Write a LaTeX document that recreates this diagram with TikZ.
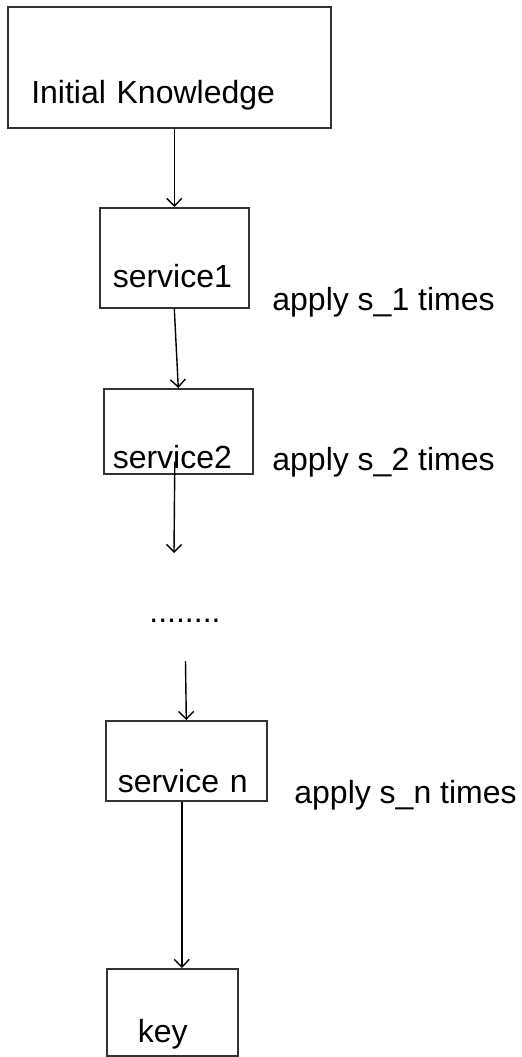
\documentclass[tikz,border=0pt]{standalone}
\usepackage{fontspec}
\setmainfont{Liberation Sans}
\usetikzlibrary{arrows.meta}

\tikzset{
  box/.style={draw=black!80, line width=0.8pt, anchor=north west, inner ysep=0pt, align=left, font=\fontsize{16}{19}\selectfont},
  note/.style={anchor=base west, inner sep=0pt, font=\fontsize{16}{19}\selectfont},
  arr/.style={-{Straight Barb[length=3.8pt,width=7.5pt]}, line width=0.7pt}
}

\begin{document}
\begin{tikzpicture}[x=0.5pt, y=-0.5pt]
    \useasboundingbox (0,0) rectangle (521,1057);
    \node[box, inner xsep=11.75pt, text width=138pt, text height=48.5pt, text depth=12pt] (ik) at (7,6) {Initial Knowledge};
    \node[box, inner xsep=6.5pt, text width=61.5pt, text height=40pt, text depth=10pt] (s1) at (99,207) {service1};
    \node[box, inner xsep=4.5pt, text width=65.5pt, text height=40pt, text depth=2.5pt] (s2) at (103,388) {service2};
    \node[box, inner xsep=6pt, text width=68.5pt, text height=36pt, text depth=4pt] (sn) at (105,720) {service n};
    \node[box, inner xsep=15.5pt, text width=34.5pt, text height=37pt, text depth=6.5pt] (key) at (106,968) {key};
    \node[note] (t1) at (272,310) {apply s\_1 times};
    \node[note] (t2) at (272,470) {apply s\_2 times};
    \node[note] (tn) at (294,803) {apply s\_n times};
    \node[note] (dots) at (149,622) {........};
    \coordinate (d-in) at (174,553);
    \coordinate (d-out) at (185.5,661);
    \draw[arr] (ik.south -| s1.north) -- (s1.north);
    \draw[arr] (s1.south) -- (s2.north);
    \draw[arr] ([xshift=-1.75pt,yshift=6.5pt]s2.south) -- (d-in);
    \draw[arr] (d-out) -- (sn.north);
    \draw[arr] ([xshift=-2.25pt]sn.south) -- ([xshift=-2.25pt]sn.south |- key.north);
\end{tikzpicture}
\end{document}
